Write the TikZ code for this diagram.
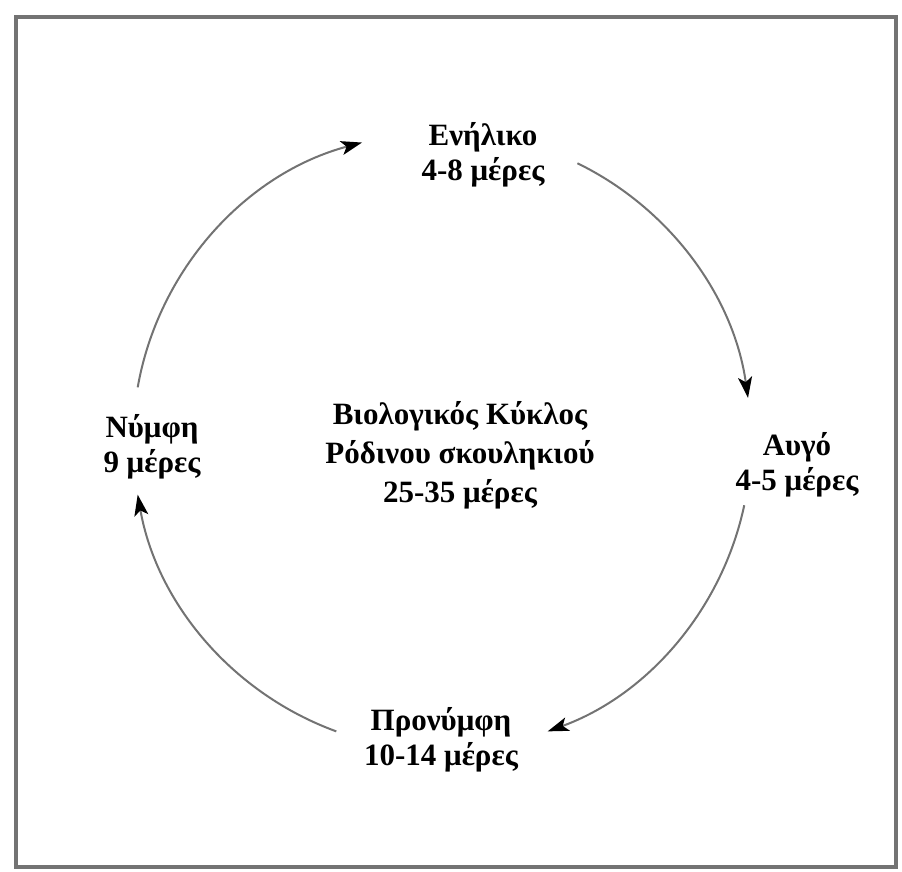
\documentclass[tikz,border=0pt]{standalone}
\usepackage{fontspec}
\setmainfont{Liberation Serif}
\usetikzlibrary{arrows.meta, positioning}
\tikzstyle{stage} = [align=center, inner sep=0pt, font=\fontsize{31}{35}\selectfont\bfseries]
\tikzstyle{title} = [align=center, inner sep=0pt, font=\fontsize{31}{39}\selectfont\bfseries]
\tikzstyle{cycle} = [draw=black!55, line width=2pt, -{Stealth[length=21pt,width=14pt,inset=5pt,black]}]
\tikzstyle{frame} = [draw=black!55, line width=4pt]

\begin{document}
\begin{tikzpicture}
        [x=1pt, y=-1pt]
        \useasboundingbox (0,0) rectangle (902,872);
        \draw [frame] (16,17) rectangle (896,867);
        \coordinate (mid) at (442,441);
        \node [stage] (adult) at (483,155) {Ενήλικο\\4-8 μέρες};
        \node [stage] (egg) at (797,465) {Αυγό\\4-5 μέρες};
        \node [stage] (prenymph) at (441,740) {Προνύμφη\\10-14 μέρες};
        \node [stage] (nymph) at (152,447) {Νύμφη\\9 μέρες};
        \node [title] (life) at (460,455) {Βιολογικός Κύκλος\\Ρόδινου σκουληκιού\\25-35 μέρες};

        % arcs of the cycle
        \draw [cycle] ([shift={(-64:309)}]mid) arc[start angle=-64, end angle=-8, radius=309];
        \draw [cycle] ([shift={(12:309)}]mid) arc[start angle=12, end angle=70, radius=309];
        \draw [cycle] ([shift={(110:309)}]mid) arc[start angle=110, end angle=170, radius=309];
        \draw [cycle] ([shift={(190:309)}]mid) arc[start angle=190, end angle=255, radius=309];
    \end{tikzpicture}
\end{document}
